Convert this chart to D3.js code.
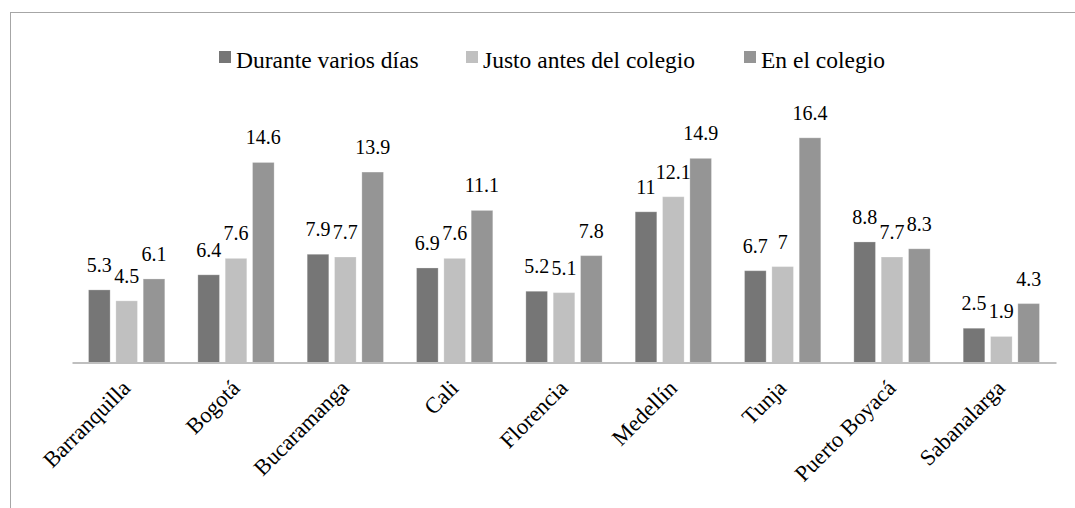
<!DOCTYPE html>
<html>
<head>
<meta charset="utf-8">
<script src="https://cdn.jsdelivr.net/npm/d3@7"></script>
<style>
  html, body { margin: 0; padding: 0; background: #fff; }
  svg { display: block; }
  svg text { font-family: "Liberation Serif", "Times New Roman", Tinos, "DejaVu Serif", serif; }
</style>
</head>
<body>
<svg id="chart" width="1075" height="508"></svg>
<script>
const categories = ["Barranquilla", "Bogotá", "Bucaramanga", "Cali", "Florencia", "Medellín", "Tunja", "Puerto Boyacá", "Sabanalarga"];
const seriesNames = ["Durante varios días", "Justo antes del colegio", "En el colegio"];
const seriesColors = ["#767676", "#c0c0c0", "#959595"];
const duranteVariosDias = [5.3, 6.4, 7.9, 6.9, 5.2, 11, 6.7, 8.8, 2.5];
const justoAntesDelColegio = [4.5, 7.6, 7.7, 7.6, 5.1, 12.1, 7, 7.7, 1.9];
const enElColegio = [6.1, 14.6, 13.9, 11.1, 7.8, 14.9, 16.4, 8.3, 4.3];
const seriesValues = [duranteVariosDias, justoAntesDelColegio, enElColegio];

const svg = d3.select("#chart");

// outer frame (extends past the picture on right and bottom)
svg.append("rect")
  .attr("x", 10.5).attr("y", 12.5)
  .attr("width", 1100).attr("height", 600)
  .attr("fill", "none").attr("stroke", "#a6a6a6").attr("stroke-width", 1);

const baseY = 362.5;
const x0 = d3.scaleBand().domain(categories).range([72, 1056]).paddingInner(0).paddingOuter(0);
const x1 = d3.scaleBand().domain(d3.range(3)).range([0, x0.bandwidth()]).paddingInner(0.21).paddingOuter(0.605);
const y = d3.scaleLinear().domain([0, 18]).range([baseY, baseY - 18 * 13.7]);

const data = [];
categories.forEach((c, i) => {
  seriesValues.forEach((vals, s) => data.push({ cat: c, s: s, v: vals[i] }));
});

svg.append("g").selectAll("rect").data(data).join("rect")
  .attr("x", d => x0(d.cat) + x1(d.s))
  .attr("y", d => y(d.v))
  .attr("width", x1.bandwidth())
  .attr("height", d => y(0) - y(d.v))
  .attr("fill", d => seriesColors[d.s])
  .attr("stroke", "#ffffff").attr("stroke-opacity", 0.25).attr("stroke-width", 1);

// baseline axis
const xAxis = d3.axisBottom(x0).tickSize(0).tickPadding(0);
const gx = svg.append("g").attr("transform", `translate(0,${baseY})`).call(xAxis);
gx.attr("font-family", null);
gx.select(".domain").attr("stroke", "#bfbfbf").attr("stroke-width", 2);
gx.selectAll(".tick text")
  .attr("font-size", 22.5).attr("fill", "#000")
  .attr("text-anchor", "end")
  .attr("dy", null).attr("y", 0)
  .attr("transform", "translate(5,27) rotate(-45)");

// data labels
svg.append("g").selectAll("text").data(data).join("text")
  .attr("x", d => x0(d.cat) + x1(d.s) + x1.bandwidth() / 2)
  .attr("y", d => y(d.v) - 18)
  .attr("text-anchor", "middle")
  .attr("font-size", 20).attr("fill", "#000")
  .text(d => d.v);

// legend
const legendX = [219, 466, 744];
const lg = svg.append("g");
seriesNames.forEach((n, i) => {
  lg.append("rect").attr("x", legendX[i]).attr("y", 51).attr("width", 12).attr("height", 12).attr("fill", seriesColors[i]);
  lg.append("text").attr("x", legendX[i] + 17).attr("y", 68).attr("font-size", 23.5).attr("fill", "#000").text(n);
});
</script>
</body>
</html>
